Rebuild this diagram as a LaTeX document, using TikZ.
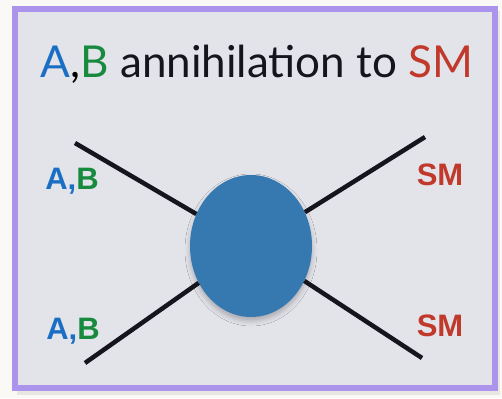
\documentclass[tikz,border=0pt]{standalone}
\usepackage{fontspec}
\setmainfont{Lato}
\newfontfamily\labelfont{Liberation Sans}
\usetikzlibrary{shapes.geometric,shadows.blur}
\definecolor{paper}{HTML}{FBF9F5}
\definecolor{panel}{HTML}{E3E3EA}
\definecolor{frame}{HTML}{AC94EC}
\definecolor{cblue}{HTML}{1A6FC4}
\definecolor{cgreen}{HTML}{178A3E}
\definecolor{cred}{HTML}{C0392B}
\definecolor{ink}{HTML}{15151D}
\definecolor{blob}{HTML}{3579B0}
\tikzset{
  leg/.style={draw=ink, line width=4.5pt},
  lbl/.style={font=\labelfont\bfseries\fontsize{31}{32}\selectfont, inner sep=0pt},
  vertex/.style={ellipse, fill=blob, inner sep=0pt, minimum width=122pt, minimum height=142pt,
    blur shadow={shadow xshift=0pt, shadow yshift=-4pt, shadow blur radius=5pt, shadow opacity=25}},
}
\begin{document}
\begin{tikzpicture}[x=1pt,y=-1pt]
  \fill[paper] (0,0) rectangle (502,398);
  \useasboundingbox (0,0) rectangle (502,398);
  % panel with purple frame
  \fill[black!25, opacity=0.3] (17,11) rectangle (500,395);
  \fill[panel] (15,9) rectangle (495,388);
  \draw[frame, line width=6pt] (15,9) rectangle (495,388);
  % title
  \node (title) at (257,64) {\fontsize{44}{46}\selectfont\textcolor{cblue}{A},\textcolor{cgreen}{B} \textcolor{ink}{annihilation to} \textcolor{cred}{SM}};
  % blob and its external legs
  \node[vertex] (v) at (251,246) {};
  \coordinate (tl) at (75,143);
  \coordinate (tr) at (425,137);
  \coordinate (bl) at (85,363);
  \coordinate (br) at (422,358);
  \draw[leg] (tl) -- (v);
  \draw[leg] (tr) -- (v);
  \draw[leg] (bl) -- (v);
  \draw[leg] (br) -- (v);
  % labels
  \node[lbl] (ab1) at (72,181) {\textcolor{cblue}{A,}\textcolor{cgreen}{B}};
  \node[lbl] (ab2) at (73,331) {\textcolor{cblue}{A,}\textcolor{cgreen}{B}};
  \node[lbl, text=cred] (sm1) at (440,175) {SM};
  \node[lbl, text=cred] (sm2) at (440,326) {SM};
\end{tikzpicture}
\end{document}
